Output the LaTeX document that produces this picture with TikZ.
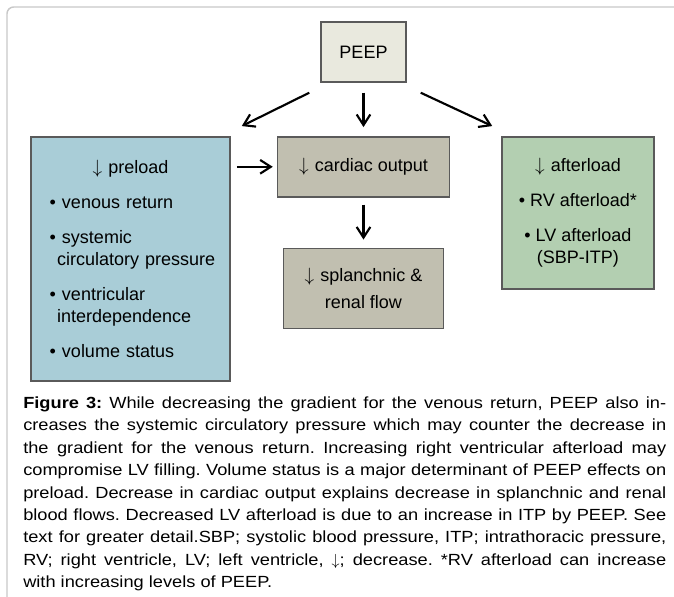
\documentclass[tikz,border=0pt]{standalone}
\usepackage{fontspec}
\setmainfont{Liberation Sans}
\newfontfamily\capfont[FakeStretch=1.13]{Liberation Sans}
\usepackage{tikz}
\usetikzlibrary{arrows.meta, positioning, calc}
\usepackage{xcolor}
\definecolor{peepfill}{HTML}{E9E9DE}
\definecolor{preloadfill}{HTML}{A9CDD7}
\definecolor{cardfill}{HTML}{C1BFB0}
\definecolor{afterfill}{HTML}{B3CFB1}
\definecolor{boxline}{HTML}{5A5A5A}
\definecolor{framegray}{HTML}{C8C8C8}

\newcommand{\itm}[1]{\hspace*{14pt}\textbullet\ #1}
\newcommand{\cont}[1]{\hspace*{19.5pt}#1}

\begin{document}
\begin{tikzpicture}[
        x=0.75pt, y=-0.75pt,
        every node/.style={font=\fontsize{13.5}{16.5}\selectfont},
        block/.style={draw=boxline, line width=1.1pt, inner sep=0pt, align=center},
        arrowstyle/.style={-{Straight Barb[length=2.8mm, width=3.6mm, line width=1.6pt]}, line width=1.6pt, black}
    ]
        \useasboundingbox (0,0) rectangle (674,596);
        % light frame round the figure
        \draw[framegray, line width=1.1pt, rounded corners=5pt] (7,610) -- (7,7) -- (690,7);

        \node[block, fill=peepfill, minimum width=63.75pt, minimum height=45pt] (peep) at (363.5,52) {PEEP};
        \node[block, fill=cardfill, minimum width=129pt, minimum height=45pt, below=40pt of peep] (cardiac) {$\downarrow$\,\,cardiac output};
        \node[block, fill=cardfill, minimum width=120pt, minimum height=60pt, below=37.5pt of cardiac] (splanch) {$\downarrow$\,\,splanchnic \&\\[3.75pt]renal flow};
        \node[block, fill=preloadfill, minimum height=183pt, text width=149.25pt, align=left,
            left=34.5pt of cardiac.north west, anchor=north east] (preload) {
            \makebox[\linewidth]{$\downarrow$\,\,preload}\\[9.75pt]
            \itm{venous return}\\[9.75pt]
            \itm{systemic}\\
            \cont{circulatory pressure}\\[9.75pt]
            \itm{ventricular}\\
            \cont{interdependence}\\[9.75pt]
            \itm{volume status}
        };
        \node[block, fill=afterfill, minimum width=114pt, minimum height=114pt,
            right=38.25pt of cardiac.north east, anchor=north west] (after) {
            $\downarrow$\,\,afterload\\[9.75pt]
            \textbullet\ RV afterload*\\[9.75pt]
            \textbullet\ LV afterload\\
            (SBP-ITP)
        };

        \draw[arrowstyle] ($(peep.south west)+(-11,10)$) -- ($(preload.north east)+(11,-10)$);
        \draw[arrowstyle, shorten <=7.5pt, shorten >=6.75pt] (peep) -- (cardiac);
        \draw[arrowstyle] ($(peep.south east)+(14,10)$) -- ($(after.north west)+(-9,-10)$);
        \draw[arrowstyle, shorten <=4.5pt, shorten >=3pt] (preload.east |- cardiac) -- (cardiac);
        \draw[arrowstyle, shorten <=5.25pt, shorten >=6pt] (cardiac) -- (splanch);

        \node[anchor=base west, inner sep=0pt, text width=482.25pt, align=justify,
            font=\capfont\fontsize{12.1}{16.8}\selectfont\frenchspacing] (caption) at (23,408.5) {%
            \textbf{Figure 3:} While decreasing the gradient for the venous return, PEEP also in-\linebreak
            creases the systemic circulatory pressure which may counter the decrease in\linebreak
            the gradient for the venous return. Increasing right ventricular afterload may\linebreak
            compromise LV filling. Volume status is a major determinant of PEEP effects on\linebreak
            preload. Decrease in cardiac output explains decrease in splanchnic and renal\linebreak
            blood flows. Decreased LV afterload is due to an increase in ITP by PEEP. See\linebreak
            text for greater detail.SBP; systolic blood pressure, ITP; intrathoracic pressure,\linebreak
            RV; right ventricle, LV; left ventricle, $\downarrow$; decrease. *RV afterload can increase\linebreak
            with increasing levels of PEEP.};
    \end{tikzpicture}
\end{document}
